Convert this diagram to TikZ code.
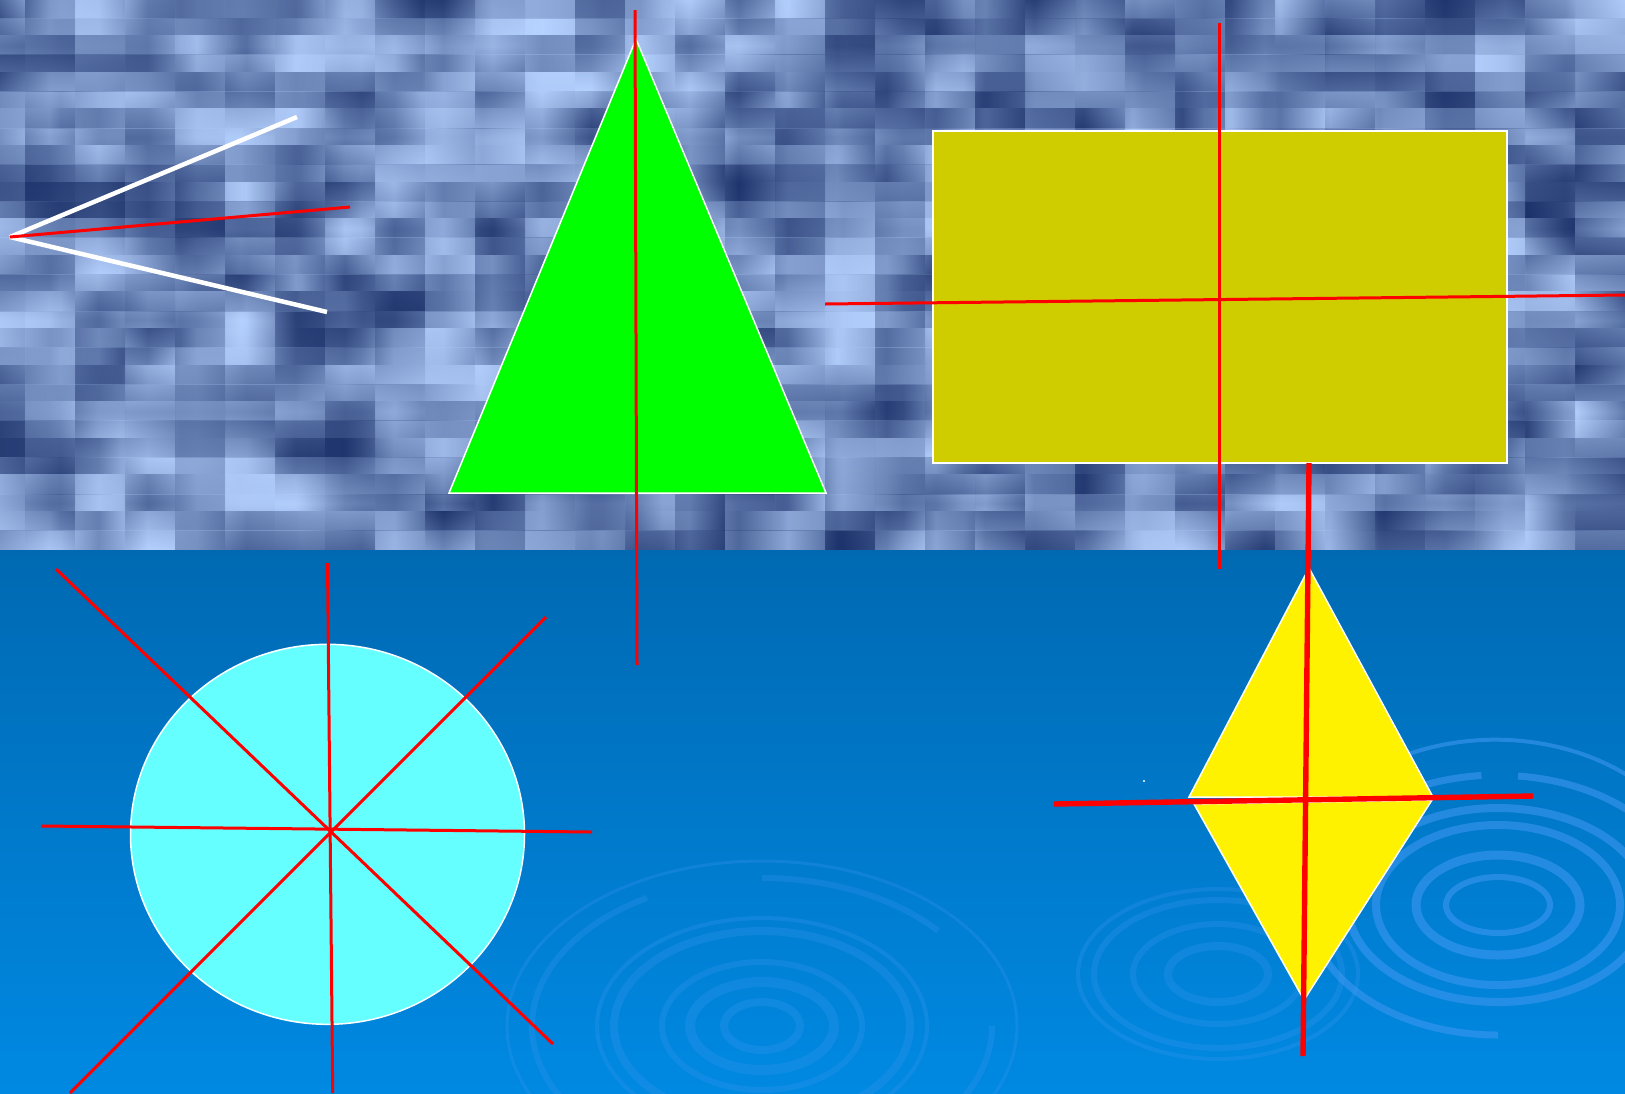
\documentclass[tikz,border=0pt]{standalone}
\definecolor{tdark}{RGB}{4,26,84}
\definecolor{tlight}{RGB}{182,210,255}
\definecolor{seatop}{RGB}{0,105,178}
\definecolor{seabot}{RGB}{0,137,226}
\definecolor{ripple}{RGB}{60,150,240}
\definecolor{olive}{RGB}{207,204,0}
\definecolor{cyanfill}{RGB}{102,255,255}
\tikzset{
  redthin/.style={draw=red, line width=1.5pt},
  redthick/.style={draw=red, line width=2.7pt},
  whiteline/.style={draw=white, line width=2.25pt},
  shapeedge/.style={draw=white, line width=0.75pt, line join=miter},
  ring/.style={draw=ripple, line width=#1},
}
\newcommand\rndval{% value pushed toward the extremes, biased light
  \pgfmathsetmacro\tt{2*rnd-1}%
  \pgfmathtruncatemacro\v{max(0,min(100,60+55*\tt/sqrt(abs(\tt)+0.001)))}%
}
\begin{document}
\begin{tikzpicture}[x=0.5pt,y=-0.5pt]
\useasboundingbox (0,0) rectangle (1625,1093);
% sea
\shade[top color=seatop, bottom color=seabot] (0,549) rectangle (1625,1093);
% cloudy texture
\begin{scope}
\clip (0,0) rectangle (1625,549);
\pgfmathsetseed{2024}
% layer 1: opaque horizontal strips
\foreach \j in {0,...,14}{
  \rndval
  \xdef\spec{color(0bp)=(tlight!\v!tdark); color(25bp)=(tlight!\v!tdark)}
  \foreach \i in {1,...,33}{
    \rndval
    \pgfmathsetmacro\p{25+50*\i/33}
    \xdef\spec{\spec; color(\p bp)=(tlight!\v!tdark)}
  }
  \xdef\spec{\spec; color(100bp)=(tlight!\v!tdark)}
  \edef\x{\noexpand\pgfdeclarehorizontalshading{hrow\j}{100bp}{\spec}}\x
  \shade[shading=hrow\j] (0,\j*36.6-1) rectangle (1625,\j*36.6+37.6);
}
% layer 2: vertical columns, semi-transparent
\foreach \i in {0,...,32}{
  \rndval
  \xdef\spec{color(0bp)=(tlight!\v!tdark); color(25bp)=(tlight!\v!tdark)}
  \foreach \j in {1,...,12}{
    \rndval
    \pgfmathsetmacro\p{25+50*\j/12}
    \xdef\spec{\spec; color(\p bp)=(tlight!\v!tdark)}
  }
  \xdef\spec{\spec; color(100bp)=(tlight!\v!tdark)}
  \edef\x{\noexpand\pgfdeclareverticalshading{vcol\i}{100bp}{\spec}}\x
  \shade[shading=vcol\i, opacity=0.45] (\i*50-25,0) rectangle (\i*50+25,549);
}
% layer 3: offset horizontal strips to soften edges
\foreach \j in {0,...,15}{
  \rndval
  \xdef\spec{color(0bp)=(tlight!\v!tdark); color(25bp)=(tlight!\v!tdark)}
  \foreach \i in {1,...,27}{
    \rndval
    \pgfmathsetmacro\p{25+50*\i/27}
    \xdef\spec{\spec; color(\p bp)=(tlight!\v!tdark)}
  }
  \xdef\spec{\spec; color(100bp)=(tlight!\v!tdark)}
  \edef\x{\noexpand\pgfdeclarehorizontalshading{orow\j}{100bp}{\spec}}\x
  \shade[shading=orow\j, opacity=0.28] (0,\j*36.6-18.3) rectangle (1625,\j*36.6+18.3);
}
\end{scope}
% ripples
\coordinate (c1) at (762,1026);
\coordinate (c2) at (1498,905);
\coordinate (c3) at (1218,974);
\begin{scope}[opacity=0.28]
\draw[ring=1.5pt] (c1) ellipse[x radius=255, y radius=165];
\draw[ring=3pt] (c1) ++(230,0) arc[start angle=0, end angle=80, x radius=230, y radius=148];
\draw[ring=3pt] (c1) ++(-230,0) arc[start angle=180, end angle=95, x radius=230, y radius=148];
\draw[ring=3pt] (c1) ++(-230,0) arc[start angle=180, end angle=240, x radius=230, y radius=148];
\draw[ring=3pt] (c1) ++(0,-148) arc[start angle=270, end angle=320, x radius=230, y radius=148];
\draw[ring=2pt] (c1) ellipse[x radius=165, y radius=108];
\draw[ring=4pt] (c1) ellipse[x radius=148, y radius=95];
\draw[ring=3pt] (c1) ellipse[x radius=100, y radius=64];
\draw[ring=5pt] (c1) ellipse[x radius=72, y radius=44];
\draw[ring=4pt] (c1) ellipse[x radius=38, y radius=24];
\draw[ring=2pt] (c3) ellipse[x radius=140, y radius=85];
\draw[ring=3pt] (c3) ellipse[x radius=124, y radius=74];
\draw[ring=3pt] (c3) ellipse[x radius=85, y radius=50];
\draw[ring=4pt] (c3) ellipse[x radius=50, y radius=28];
\end{scope}
\begin{scope}[opacity=0.6]
\draw[ring=2pt] (c2) ++(-200,-60) arc[start angle=200, end angle=330, x radius=210, y radius=160];
\draw[ring=3.5pt] (c2) ++(-190,0) arc[start angle=180, end angle=265, x radius=190, y radius=130];
\draw[ring=3.5pt] (c2) ++(0,130) arc[start angle=90, end angle=170, x radius=190, y radius=130];
\draw[ring=3.5pt] (c2) ++(20,-129) arc[start angle=276, end angle=360, x radius=190, y radius=130];
\draw[ring=4pt] (c2) ellipse[x radius=150, y radius=97];
\draw[ring=4pt] (c2) ellipse[x radius=122, y radius=80];
\draw[ring=4.5pt] (c2) ellipse[x radius=82, y radius=50];
\draw[ring=3pt] (c2) ellipse[x radius=52, y radius=28];
\end{scope}
\fill[white] (1144,781) circle[radius=1.2];
% fan of lines
\coordinate (fv) at (10,237);
\coordinate (fu) at (297,117);
\coordinate (fl) at (327,312);
\coordinate (fr) at (350,207);
\draw[whiteline] (fv) -- (fu);
\draw[whiteline] (fv) -- (fl);
\draw[redthin] (fv) -- (fr);
% triangle
\coordinate (ta) at (636,39);
\coordinate (tb) at (449,493);
\coordinate (tc) at (826,493);
\filldraw[fill=green, shapeedge] (ta) -- (tb) -- (tc) -- cycle;
\coordinate (t1) at (635,10);
\coordinate (t2) at (637,665);
\draw[redthin] (t1) -- (t2);
% rectangle
\filldraw[fill=olive, shapeedge] (933,131) rectangle (1507,463);
\coordinate (r1) at (1219,23);
\coordinate (r2) at (1219,569);
\coordinate (r3) at (825,304);
\coordinate (r4) at (1625,295);
\draw[redthin] (r1) -- (r2);
\draw[redthin] (r3) -- (r4);
% diamond
\coordinate (dt) at (1309,568);
\coordinate (dl) at (1189,797);
\coordinate (dr) at (1433,797);
\coordinate (dl2) at (1194,804);
\coordinate (dr2) at (1432,800);
\coordinate (db) at (1304,1000);
\filldraw[fill=yellow, shapeedge] (dt) -- (dl) -- (dr) -- cycle;
\filldraw[fill=yellow, shapeedge] (dl2) -- (dr2) -- (db) -- cycle;
\coordinate (d1) at (1309,463);
\coordinate (d2) at (1303,1056);
\coordinate (d3) at (1054,804);
\coordinate (d4) at (1533,796);
\draw[redthick] (d1) -- (d2);
\draw[redthick] (d3) -- (d4);
% circle
\filldraw[fill=cyanfill, shapeedge] (327.5,834.3) ellipse[x radius=197, y radius=190];
\coordinate (k1) at (327.5,563);
\coordinate (k2) at (332.7,1093);
\coordinate (k3) at (41.5,826);
\coordinate (k4) at (592,832);
\coordinate (k5) at (56,569);
\coordinate (k6) at (553,1044);
\coordinate (k7) at (546,617);
\coordinate (k8) at (70,1093);
\draw[redthin] (k1) -- (k2);
\draw[redthin] (k3) -- (k4);
\draw[redthin] (k5) -- (k6);
\draw[redthin] (k7) -- (k8);
\end{tikzpicture}
\end{document}
